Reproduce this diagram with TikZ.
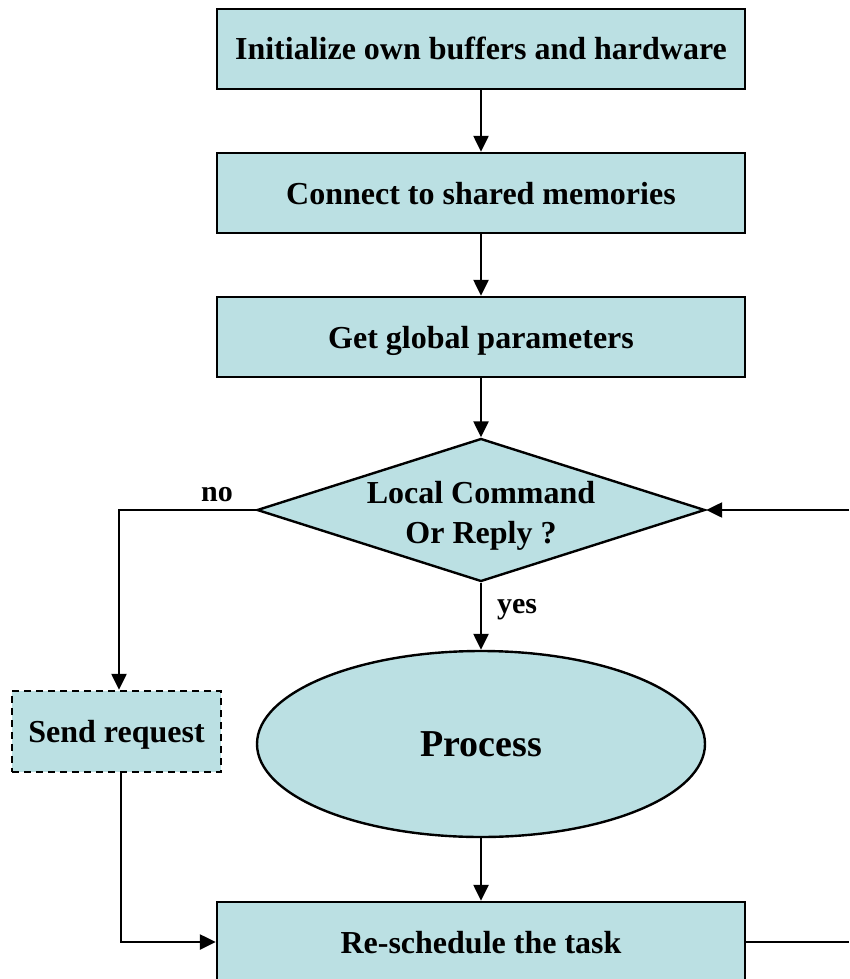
\documentclass[tikz,border=0pt]{standalone}
\usepackage{fontspec}
\setmainfont{Liberation Serif}
\usetikzlibrary{shapes.geometric,arrows.meta}
\definecolor{boxfill}{RGB}{187,224,227}
\tikzset{
  txt/.style={font=\fontsize{32}{38}\selectfont\bfseries, text height=22pt, text depth=0pt},
  box/.style={draw=black, line width=2.4pt, fill=boxfill, minimum width=528pt, minimum height=80pt, inner sep=0pt, txt},
  smallbox/.style={box, dashed, dash pattern=on 7pt off 5pt, minimum width=209pt, minimum height=81pt},
  decision/.style={draw=black, line width=2.4pt, fill=boxfill, diamond, aspect=3.13, minimum width=448pt, minimum height=143pt, inner sep=0pt},
  procnode/.style={draw=black, line width=2.4pt, fill=boxfill, ellipse, minimum width=448pt, minimum height=186pt, inner sep=0pt, font=\fontsize{38}{44}\selectfont\bfseries},
  flow/.style={line width=2.4pt, -{Triangle[length=16pt,width=15pt]}},
  plain/.style={line width=2.4pt},
  lbl/.style={font=\fontsize{30}{36}\selectfont\bfseries, inner sep=0pt, text height=20pt, text depth=0pt}
}
\begin{document}
\begin{tikzpicture}[x=1pt,y=-1pt]
  \useasboundingbox (0,0) rectangle (849,979);
  \node[box] (init) at (481,49) {Initialize own buffers and hardware};
  \node[box] (conn) at (481,193) {Connect to shared memories};
  \node[box] (glob) at (481,337) {Get global parameters};
  \node[decision] (dec) at (481,510) {};
  \node[txt] (decA) at (481,492) {Local Command};
  \node[txt] (decB) at (481,532) {Or Reply ?};
  \node[procnode] (proc) at (481,744) {Process};
  \node[smallbox] (send) at (116.5,731.5) {Send request};
  \node[box] (resch) at (481,942) {Re-schedule the task};

  \coordinate (noTurn) at (119,510);
  \coordinate (sendTurn) at (121,942);
  \coordinate (rightLow) at (849,942);
  \coordinate (rightHigh) at (849,510);

  \draw[flow] (init) -- (conn);
  \draw[flow] (conn) -- (glob);
  \draw[flow] (glob) -- (dec.north);
  \draw[flow] (dec.south) -- (proc);
  \draw[flow] (proc) -- (resch);
  \draw[flow] (dec.west) -- (noTurn) -- (send.north -| noTurn);
  \draw[flow] (send.south -| sendTurn) -- (sendTurn) -- (resch.west);
  \draw[plain] (resch.east) -- (rightLow);
  \draw[flow] (rightHigh) -- (dec.east);

  \node[lbl] (no) at (217,491) {no};
  \node[lbl] (yes) at (517,603) {yes};
\end{tikzpicture}
\end{document}
